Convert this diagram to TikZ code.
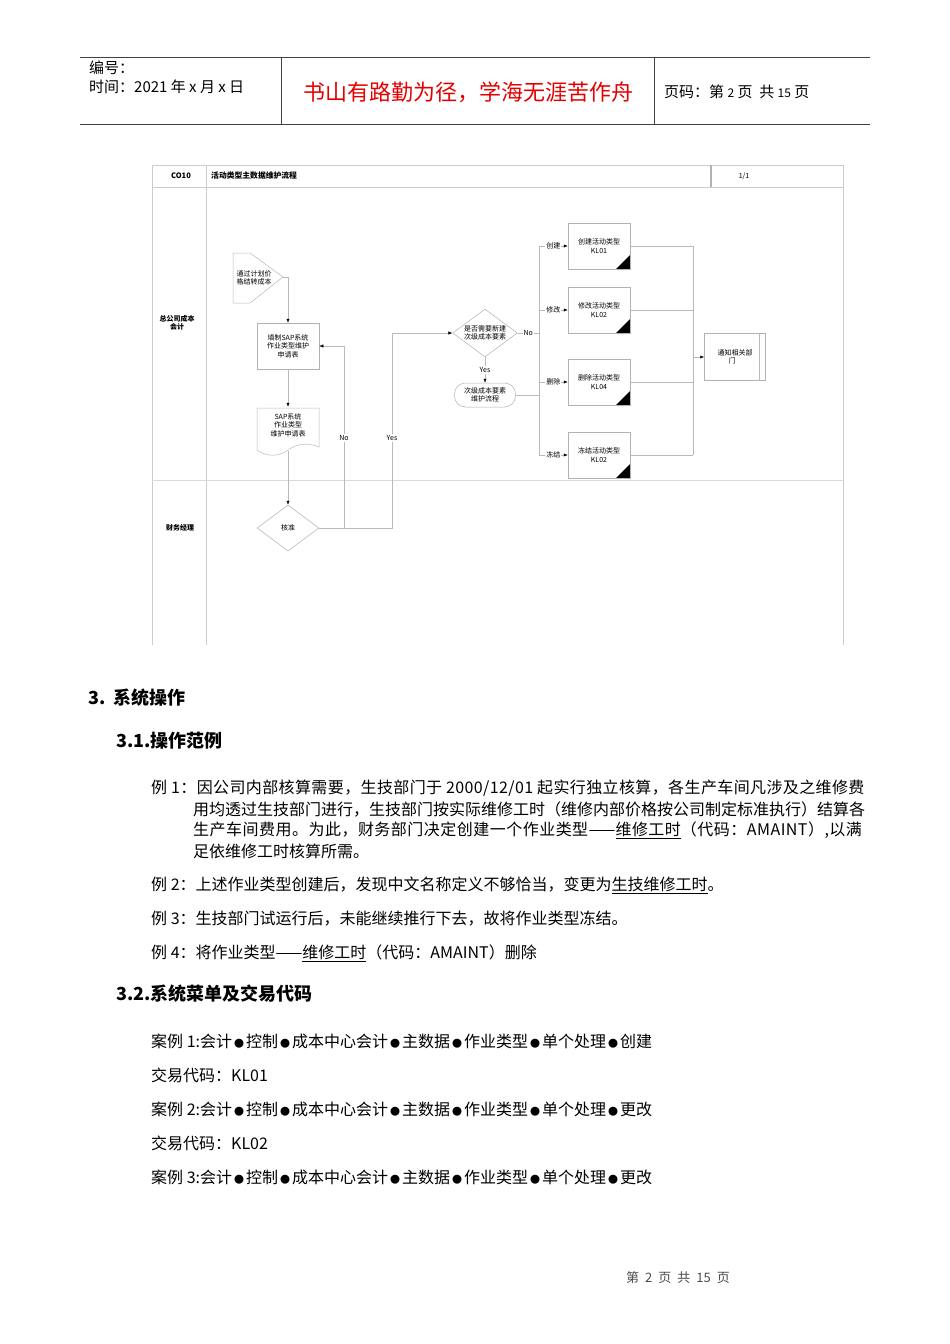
\documentclass[tikz,border=0pt]{standalone}
\usepackage{fontspec}
\setmainfont{Noto Sans CJK SC}
\usetikzlibrary{arrows.meta,shapes.geometric,calc}
\newcommand\mybul{\makebox[14pt]{\fontsize{10}{12}\selectfont ●}}
\begin{document}
\begin{tikzpicture}[x=1pt,y=-1pt,
  hdr/.style={anchor=west, font=\fontsize{15}{18}\selectfont, inner sep=0},
  btext/.style={anchor=west, font=\fontsize{16}{19}\selectfont, inner sep=0},
  hstyle/.style={anchor=west, font=\bfseries\fontsize{18}{21}\selectfont, inner sep=0},
  dtext/.style={font=\fontsize{7}{8.5}\selectfont, align=center, inner sep=0.5},
  lanesline/.style={draw=gray!40, line width=0.8},
  flowline/.style={draw=gray!55, line width=0.5},
  flowarrow/.style={flowline, -{Latex[length=4pt,width=3.2pt,color=black]}},
  procbox/.style={draw=gray!60, line width=0.5, minimum width=62, minimum height=46, dtext},
  tribox/.style={procbox, path picture={\fill[black] (path picture bounding box.south east) -- ++(-14,0) -- ++(14,-14) -- cycle;}},
  lbl/.style={dtext, fill=white, inner sep=1},
  dia/.style={draw=gray!60, line width=0.5, shape=diamond, inner sep=0, aspect=1.35, dtext}
]
\useasboundingbox[fill=white] (0,0) rectangle (950,1344);

% ---------- header ----------
\draw[black!75, line width=0.8] (80,57) -- (870,57) (80,124) -- (870,124)
  (281,57) -- (281,124) (654,57) -- (654,124);
\node[hdr] (hno) at (89,68) {编号：};
\node[hdr] (htime) at (89,87) {时间：2021 年 x 月 x 日};
\node[font=\fontsize{22}{26}\selectfont, text=red!90!black, inner sep=0] (motto) at (468,92) {书山有路勤为径，学海无涯苦作舟};
\node[hdr] (hpage) at (664,92) {页码：第 {\fontsize{12}{14}\selectfont 2} 页\ \ 共 {\fontsize{12}{14}\selectfont 15} 页};

% ---------- diagram frame ----------
\draw[lanesline] (152,165) -- (843,165) (152,187) -- (843,187)
  (152,165) -- (152,645) (843,165) -- (843,645) (206,165) -- (206,645);
\draw[draw=gray!60, line width=1.5] (711,165) -- (711,187);
\draw[draw=gray!30, line width=0.8] (152,480) -- (843,480);
\node[font=\bfseries\fontsize{7.5}{9}\selectfont, inner sep=0] (code) at (181,176) {CO10};
\node[font=\bfseries\fontsize{7.8}{9}\selectfont, anchor=west, inner sep=0] (dtitle) at (211,176) {活动类型主数据维护流程};
\node[dtext] (pgno) at (744,176) {1/1};
\node[dtext, font=\bfseries\fontsize{7}{8.5}\selectfont] (lane1) at (177,323) {总公司成本\\会计};
\node[dtext, font=\bfseries\fontsize{7}{8.5}\selectfont] (lane2) at (180,528) {财务经理};

% ---------- nodes ----------
\draw[flowline] (233,253) -- (250,253) -- (283,277) -- (250,303) -- (233,303) -- cycle;
\node[dtext, align=left] (offp) at (254,278) {通过计划价\\格结转成本};
\coordinate (offtip) at (283,277);

\node[procbox] (fillbox) at (288,346) {填制SAP系统\\作业类型维护\\申请表};

\node[minimum width=62, minimum height=44, inner sep=0] (doc) at (288,429) {};
\draw[flowline] (257,450) -- (257,408) -- (319,408) -- (319,447)
  .. controls (308,442) and (296,444) .. (288,450)
  .. controls (280,456) and (268,458) .. (257,450);
\node[dtext] (doctext) at (288,425) {SAP系统\\作业类型\\维护申请表};

\node[dia, minimum width=62, minimum height=46] (approve) at (288,528) {核准};

\node[dia, minimum width=61, minimum height=46] (decide) at (485,333) {是否需要新建\\次级成本要素};
\node[draw=gray!60, line width=0.5, rounded corners=11, minimum width=61, minimum height=24, dtext] (subproc) at (485,395) {次级成本要素\\维护流程};

\node[tribox] (create) at (599,246) {创建活动类型\\KL01};
\node[tribox] (modify) at (599,310) {修改活动类型\\KL02};
\node[tribox] (delete) at (599,382) {删除活动类型\\KL04};
\node[tribox] (freeze) at (599,455) {冻结活动类型\\KL02};

\node[procbox, minimum width=61, minimum height=47] (notify) at (735,357) {通知相关部\\门\hspace*{6pt}};
\draw[flowline] ($(notify.north east)+(-7,0)$) -- ($(notify.south east)+(-7,0)$);

% ---------- connectors ----------
\draw[flowarrow] (offtip) -| (fillbox.north);
\draw[flowarrow] (fillbox.south) -- (doc.north);
\draw[flowarrow] (doc.south) -- (approve.north);
\draw[flowarrow] (approve.east) -- ++(25,0) |- (fillbox.east);
\draw[flowarrow] (approve.east) -- ++(73,0) |- (decide.west);
\node[lbl] (noA) at (344,438) {No};
\node[lbl] (yesA) at (392,438) {Yes};
\draw[flowarrow] (decide.south) -- node[lbl] (yesB) {Yes} (subproc.north);

\coordinate (lbTop) at (539,246);
\coordinate (lbBot) at (539,455);
\draw[flowline] (lbTop) -- (lbBot);
\draw[flowline] (decide.east) -- node[lbl] (noB) {No} (decide.east -| lbTop);
\draw[flowline] (subproc.east) -- (subproc.east -| lbTop);
\draw[flowarrow] (create.west -| lbTop) -- node[lbl] (lc) {创建} (create.west);
\draw[flowarrow] (modify.west -| lbTop) -- node[lbl] (lm) {修改} (modify.west);
\draw[flowarrow] (delete.west -| lbTop) -- node[lbl] (ld) {删除} (delete.west);
\draw[flowarrow] (freeze.west -| lbTop) -- node[lbl] (lf) {冻结} (freeze.west);

\coordinate (rbTop) at (693,246);
\coordinate (rbBot) at (693,455);
\draw[flowline] (rbTop) -- (rbBot);
\draw[flowline] (create.east) -- (create.east -| rbTop);
\draw[flowline] (modify.east) -- (modify.east -| rbTop);
\draw[flowline] (delete.east) -- (delete.east -| rbTop);
\draw[flowline] (freeze.east) -- (freeze.east -| rbTop);
\draw[flowarrow] (notify.west -| rbTop) -- (notify.west);

% ---------- text ----------
\node[hstyle] (h3) at (88,698) {3.\ \ 系统操作};
\node[hstyle] (h31) at (116,741) {3.1.操作范例};
\node[btext] (e1a) at (151,788) {\addfontfeatures{LetterSpace=2.4}例 1：因公司内部核算需要，生技部门于 2000/12/01 起实行独立核算，各生产车间凡涉及之维修费};
\node[btext] (e1b) at (193,809) {用均透过生技部门进行，生技部门按实际维修工时（维修内部价格按公司制定标准执行）结算各};
\node[btext] (e1c) at (193,830) {\addfontfeatures{LetterSpace=3}生产车间费用。为此，财务部门决定创建一个作业类型——\underline{维修工时}（代码：AMAINT）,以满};
\node[btext] (e1d) at (193,851) {足依维修工时核算所需。};
\node[btext] (e2) at (151,885) {例 2：上述作业类型创建后，发现中文名称定义不够恰当，变更为\underline{生技维修工时}。};
\node[btext] (e3) at (151,919) {例 3：生技部门试运行后，未能继续推行下去，故将作业类型冻结。};
\node[btext] (e4) at (151,953) {例 4：将作业类型——\underline{维修工时}（代码：AMAINT）删除};
\node[hstyle] (h32) at (116,994) {3.2.系统菜单及交易代码};
\node[btext] (c1) at (151,1041) {案例 1:会计\mybul 控制\mybul 成本中心会计\mybul 主数据\mybul 作业类型\mybul 单个处理\mybul 创建};
\node[btext] (t1) at (151,1075) {交易代码：KL01};
\node[btext] (c2) at (151,1109) {案例 2:会计\mybul 控制\mybul 成本中心会计\mybul 主数据\mybul 作业类型\mybul 单个处理\mybul 更改};
\node[btext] (t2) at (151,1143) {交易代码：KL02};
\node[btext] (c3) at (151,1177) {案例 3:会计\mybul 控制\mybul 成本中心会计\mybul 主数据\mybul 作业类型\mybul 单个处理\mybul 更改};

\node[font=\fontsize{13}{15}\selectfont, text=black!70, inner sep=0] (foot) at (678,1278) {第\hspace{6pt}2\hspace{6pt}页\hspace{6pt}共\hspace{6pt}15\hspace{6pt}页};
\end{tikzpicture}
\end{document}
